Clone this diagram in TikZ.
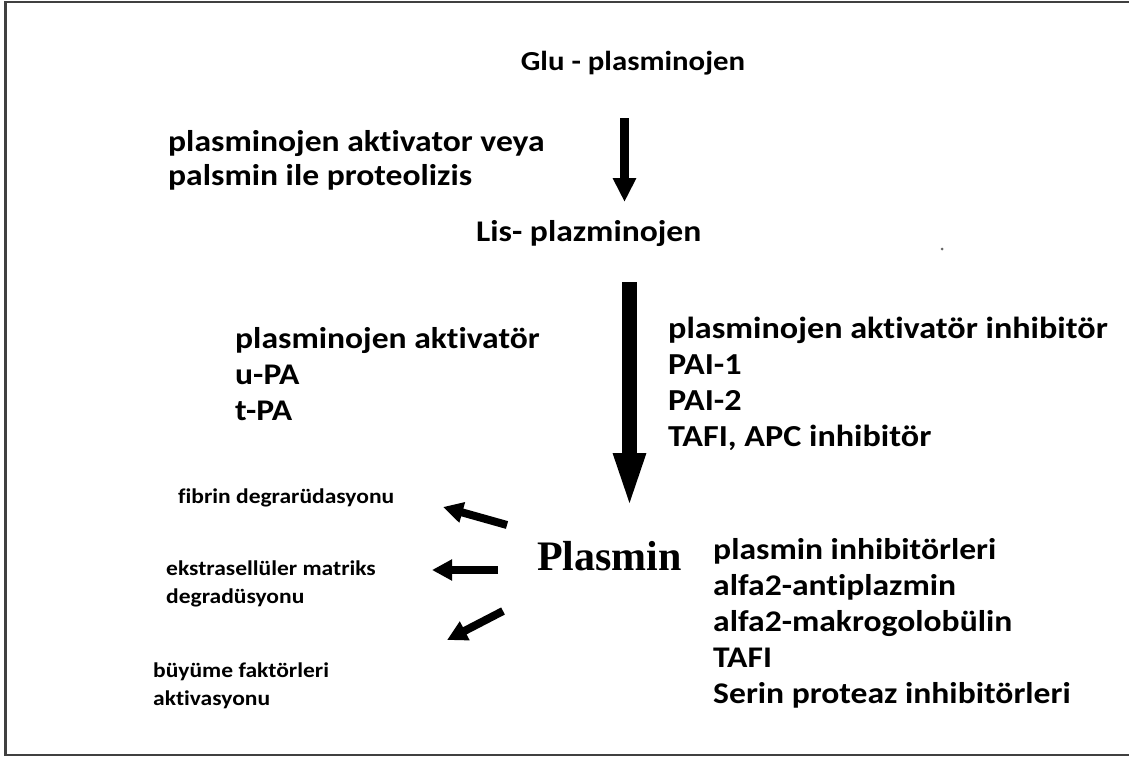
\documentclass[tikz,border=0pt]{standalone}
\usepackage{fontspec}
\setmainfont[FakeStretch=1.12, Ligatures=NoCommon]{Carlito}
\newfontfamily\plasminfont{Liberation Serif}
\usetikzlibrary{arrows.meta}
\begin{document}
\begin{tikzpicture}[x=1pt,y=-1pt,
  big/.style={font=\bfseries\fontsize{30}{36}\selectfont, anchor=base west, align=left, inner sep=0pt},
  small/.style={font=\bfseries\fontsize{21}{28}\selectfont, anchor=base west, align=left, inner sep=0pt},
  thinarrow/.style={line width=9pt, -{Triangle[width=22pt,length=24pt]}},
  thickarrow/.style={line width=15pt, -{Triangle[width=28pt,length=59pt]}},
  sidearrow/.style={line width=8pt, -{Triangle[width=20pt,length=20pt]}},
  frame/.style={draw=black!75, line width=2.5pt}
]
\useasboundingbox (0,0) rectangle (1129,758);
\fill[white] (0,0) rectangle (1129,758);
\draw[frame] (1131,2) -- (5.5,2) -- (5.5,755) -- (1131,755);

% base anchor of a multi-line node = baseline of its last line
\node[big, font=\bfseries\fontsize{27.5}{36}\selectfont, anchor=base] (glu) at (633,70) {Glu - plasminojen};
\node[big, font=\bfseries\fontsize{30}{34}\selectfont] (proteo) at (168,185) {plasminojen aktivator veya\\palsmin ile proteolizis};
\node[big] (lis) at (476,241) {Lis- plazminojen};
\node[big, font=\bfseries\fontsize{30}{36}\selectfont] (pa) at (235,420) {plasminojen aktivatör\\u-PA\\t-PA};
\node[big, font=\bfseries\fontsize{30.5}{36}\selectfont] (pai) at (668,446) {plasminojen aktivatör inhibitör\\PAI-1\\PAI-2\\TAFI, APC inhibitör};
\node[font=\plasminfont\bfseries\fontsize{42}{42}\selectfont, anchor=base west, inner sep=0pt] (plasmin) at (537,570) {Plasmin};
\node[big] (inh) at (713,703) {plasmin inhibitörleri\\alfa2-antiplazmin\\alfa2-makrogolobülin\\TAFI\\Serin proteaz inhibitörleri};
\node[small] (fib) at (178,503) {fibrin degrarüdasyonu};
\node[small] (ekstra) at (166,603) {ekstrasellüler matriks\\degradüsyonu};
\node[small] (buyume) at (153,705) {büyüme faktörleri\\aktivasyonu};

\coordinate (a1s) at (624.5,118);
\coordinate (a1e) at (624.5,202);
\coordinate (a2s) at (629.5,282);
\coordinate (a2e) at (629.5,512);
\coordinate (b1s) at (507,525);
\coordinate (b1e) at (443,507);
\coordinate (b2s) at (498,570);
\coordinate (b2e) at (432,570);
\coordinate (b3s) at (503,611);
\coordinate (b3e) at (447,640);

\draw[thinarrow] (a1s) -- (a1e);
\draw[thickarrow] (a2s) -- (a2e);
\draw[sidearrow] (b1s) -- (b1e);
\draw[sidearrow] (b2s) -- (b2e);
\draw[sidearrow] (b3s) -- (b3e);

\fill[black!60] (942,249) circle (1.5pt);
\end{tikzpicture}
\end{document}
